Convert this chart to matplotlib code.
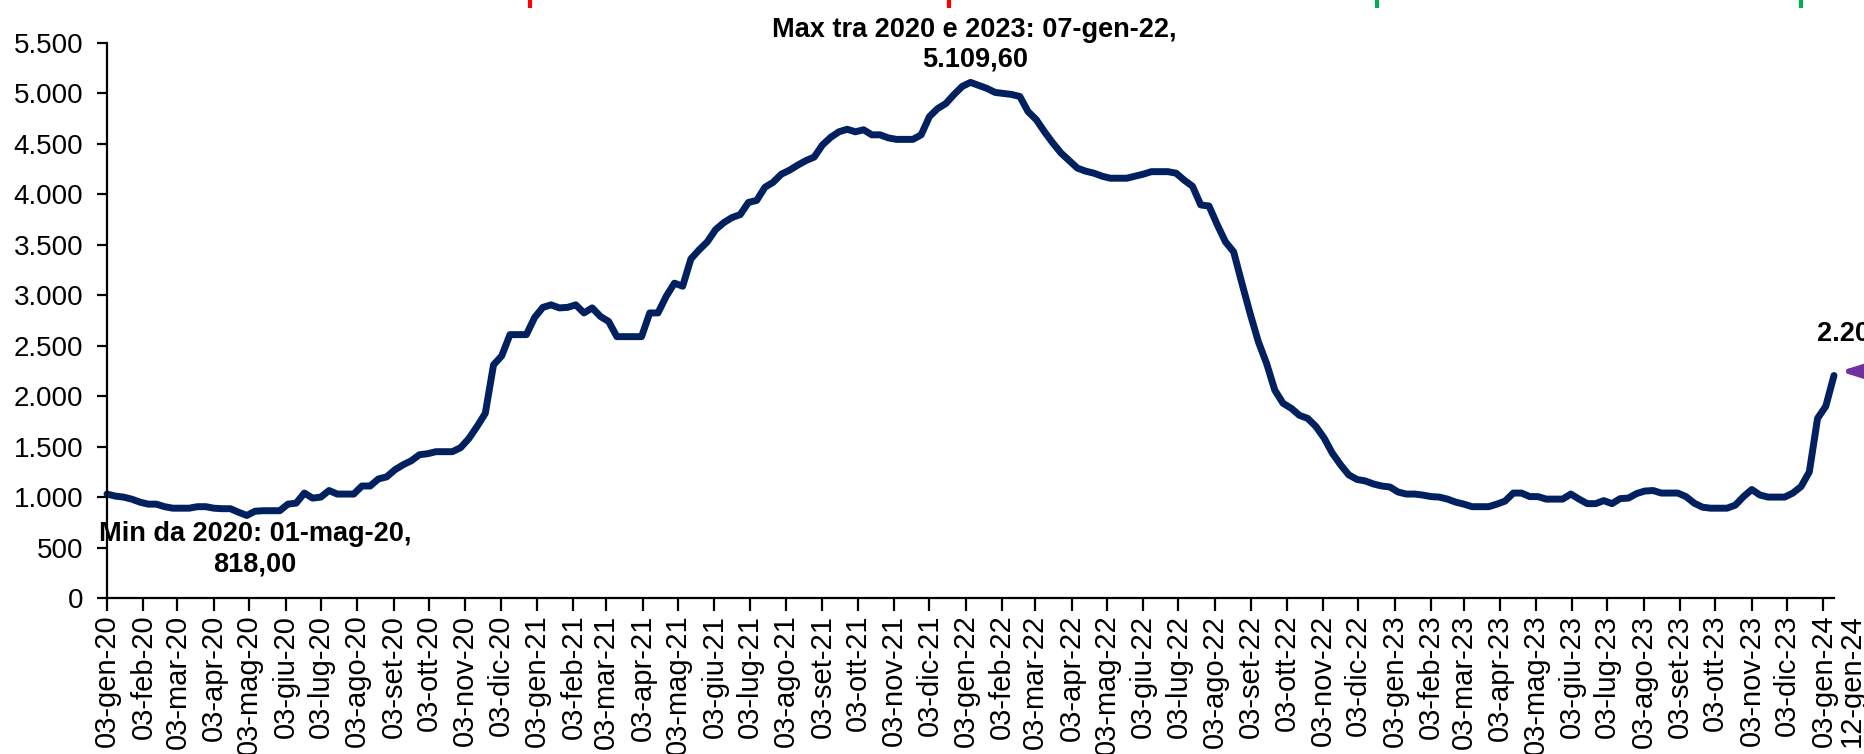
import matplotlib
matplotlib.use('Agg')
import matplotlib.pyplot as plt
import matplotlib.dates as mdates
from matplotlib import font_manager, transforms
import pandas as pd

# weekly values (Friday), from 03-gen-20 to 12-gen-24
start_date = '2020-01-03'
vals_2020 = [1030, 1010, 1000, 980, 950, 930, 930, 905, 890, 890,
             890, 905, 905, 890, 885, 885, 850, 818, 860, 865,
             865, 865, 930, 940, 1040, 990, 1000, 1065, 1030, 1030,
             1030, 1110, 1110, 1180, 1200, 1270, 1320, 1360, 1420, 1430,
             1450, 1450, 1450, 1490, 1580, 1700, 1830, 2310, 2400, 2610,
             2610, 2610]
vals_2021 = [2780, 2880, 2905, 2875, 2880, 2905, 2825, 2875, 2790, 2740,
             2590, 2590, 2590, 2590, 2825, 2825, 2990, 3120, 3090, 3360,
             3450, 3530, 3650, 3720, 3770, 3800, 3920, 3940, 4070, 4120,
             4200, 4240, 4290, 4335, 4370, 4490, 4565, 4620, 4645, 4620,
             4640, 4590, 4590, 4560, 4545, 4545, 4545, 4590, 4770, 4850,
             4900, 4990, 5070]
vals_2022 = [5109.6, 5080, 5050, 5010, 5000, 4990, 4970, 4820, 4740, 4620,
             4510, 4410, 4335, 4260, 4230, 4210, 4180, 4160, 4160, 4160,
             4180, 4200, 4225, 4225, 4225, 4210, 4140, 4080, 3895, 3885,
             3700, 3530, 3430, 3120, 2820, 2540, 2325, 2060, 1930, 1880,
             1810, 1780, 1700, 1585, 1435, 1320, 1220, 1175, 1160, 1130,
             1110, 1100]
vals_2023 = [1050, 1030, 1030, 1020, 1005, 1000, 980, 950, 930, 905,
             905, 905, 930, 960, 1040, 1040, 1005, 1005, 980, 980,
             980, 1030, 980, 935, 935, 965, 935, 985, 990, 1035,
             1060, 1065, 1040, 1040, 1040, 1005, 940, 900, 890, 890,
             890, 920, 1005, 1075, 1020, 1000, 1000, 1000, 1040, 1105,
             1250, 1780]
vals_2024 = [1900, 2205]

mesi = ['gen', 'feb', 'mar', 'apr', 'mag', 'giu',
        'lug', 'ago', 'set', 'ott', 'nov', 'dic']

# small coloured markers cut at the top edge
top_mark_dates = ['2020-12-28', '2021-12-20', '2022-12-19', '2023-12-15']
top_mark_colors = ['#FF0000', '#FF0000', '#00B050', '#00B050']

values = vals_2020 + vals_2021 + vals_2022 + vals_2023 + vals_2024
dates = pd.date_range(start_date, periods=len(values), freq='7D')
tick_dates = pd.date_range('2020-01-03', '2024-01-03', freq=pd.DateOffset(months=1))


def fmt_date(d):
    return f"{d.day:02d}-{mesi[d.month - 1]}-{d:%y}"


def fmt_num(v, dec=2):
    s = f"{v:,.{dec}f}"
    return s.replace(',', 'X').replace('.', ',').replace('X', '.')


plt.rcParams['font.family'] = ['Liberation Sans', 'DejaVu Sans']
names = {f.name for f in font_manager.fontManager.ttflist}
if 'Liberation Sans Narrow' in names:
    bold_family, bold_size = ['Liberation Sans Narrow', 'Liberation Sans'], 23
else:
    bold_family, bold_size = ['Liberation Sans', 'DejaVu Sans'], 19.5

navy = '#002060'
purple = '#7030A0'

fig = plt.figure(figsize=(18.64, 7.54), dpi=100)
ax = fig.add_axes([107 / 1864, 156 / 754, 1727 / 1864, 555 / 754])

ax.plot(dates, values, color=navy, lw=5, solid_joinstyle='round',
        solid_capstyle='round', clip_on=False)

ax.set_xlim(dates[0], dates[-1])
ax.set_ylim(0, 5500)
yt = list(range(0, 5501, 500))
ax.set_yticks(yt)
ax.set_yticklabels([fmt_num(v, 0) for v in yt])
ax.set_xticks(tick_dates)
ax.set_xticklabels([fmt_date(d) for d in tick_dates], rotation=90)
ax.tick_params(axis='x', length=9, width=1.6, pad=3, labelsize=21)
ax.tick_params(axis='y', length=7, width=1.6, pad=10, labelsize=20)
for s in ['top', 'right']:
    ax.spines[s].set_visible(False)
for s in ['left', 'bottom']:
    ax.spines[s].set_linewidth(1.6)

# last date label, no tick
ax.annotate(fmt_date(dates[-1]), xy=(dates[-1], 0), xycoords=('data', 'axes fraction'),
            xytext=(13, -12), textcoords='offset points', rotation=90,
            ha='center', va='top', fontsize=21, annotation_clip=False)

imax = max(range(len(values)), key=lambda i: values[i])
imin = min(range(len(values)), key=lambda i: values[i])

ax.annotate(f"Max tra 2020 e 2023: {fmt_date(dates[imax])},\n{fmt_num(values[imax])}",
            xy=(dates[imax], values[imax]), xytext=(3, 7), textcoords='offset points',
            ha='center', va='bottom', multialignment='center', fontsize=bold_size,
            fontweight='bold', family=bold_family, linespacing=1.2, annotation_clip=False)

ax.annotate(f"Min da 2020: {fmt_date(dates[imin])},\n{fmt_num(values[imin])}",
            xy=(dates[imin], values[imin]), xytext=(6, -4), textcoords='offset points',
            ha='center', va='top', multialignment='center', fontsize=bold_size,
            fontweight='bold', family=bold_family, linespacing=1.2)

# last value, cut at the right edge as in the source
ax.annotate(fmt_num(values[-1]), xy=(dates[-1], values[-1]), xytext=(-12, 25),
            textcoords='offset points', ha='left', va='baseline', fontsize=bold_size,
            fontweight='bold', family=bold_family, annotation_clip=False)

last_x = mdates.date2num(dates[-1])
tip = transforms.offset_copy(ax.transData, fig=fig, x=4, y=3, units='points')
ax.annotate('', xy=(last_x, values[-1]), xycoords=tip, xytext=(60, 0),
            textcoords='offset points', annotation_clip=False,
            arrowprops=dict(arrowstyle='-|>,head_length=0.8,head_width=0.25',
                            color=purple, lw=4, shrinkA=0, shrinkB=0, mutation_scale=20))

ax.vlines(pd.to_datetime(top_mark_dates), 1.063, 1.12, transform=ax.get_xaxis_transform(),
          colors=top_mark_colors, lw=3, clip_on=False)

fig.savefig('out.png', dpi=100)
